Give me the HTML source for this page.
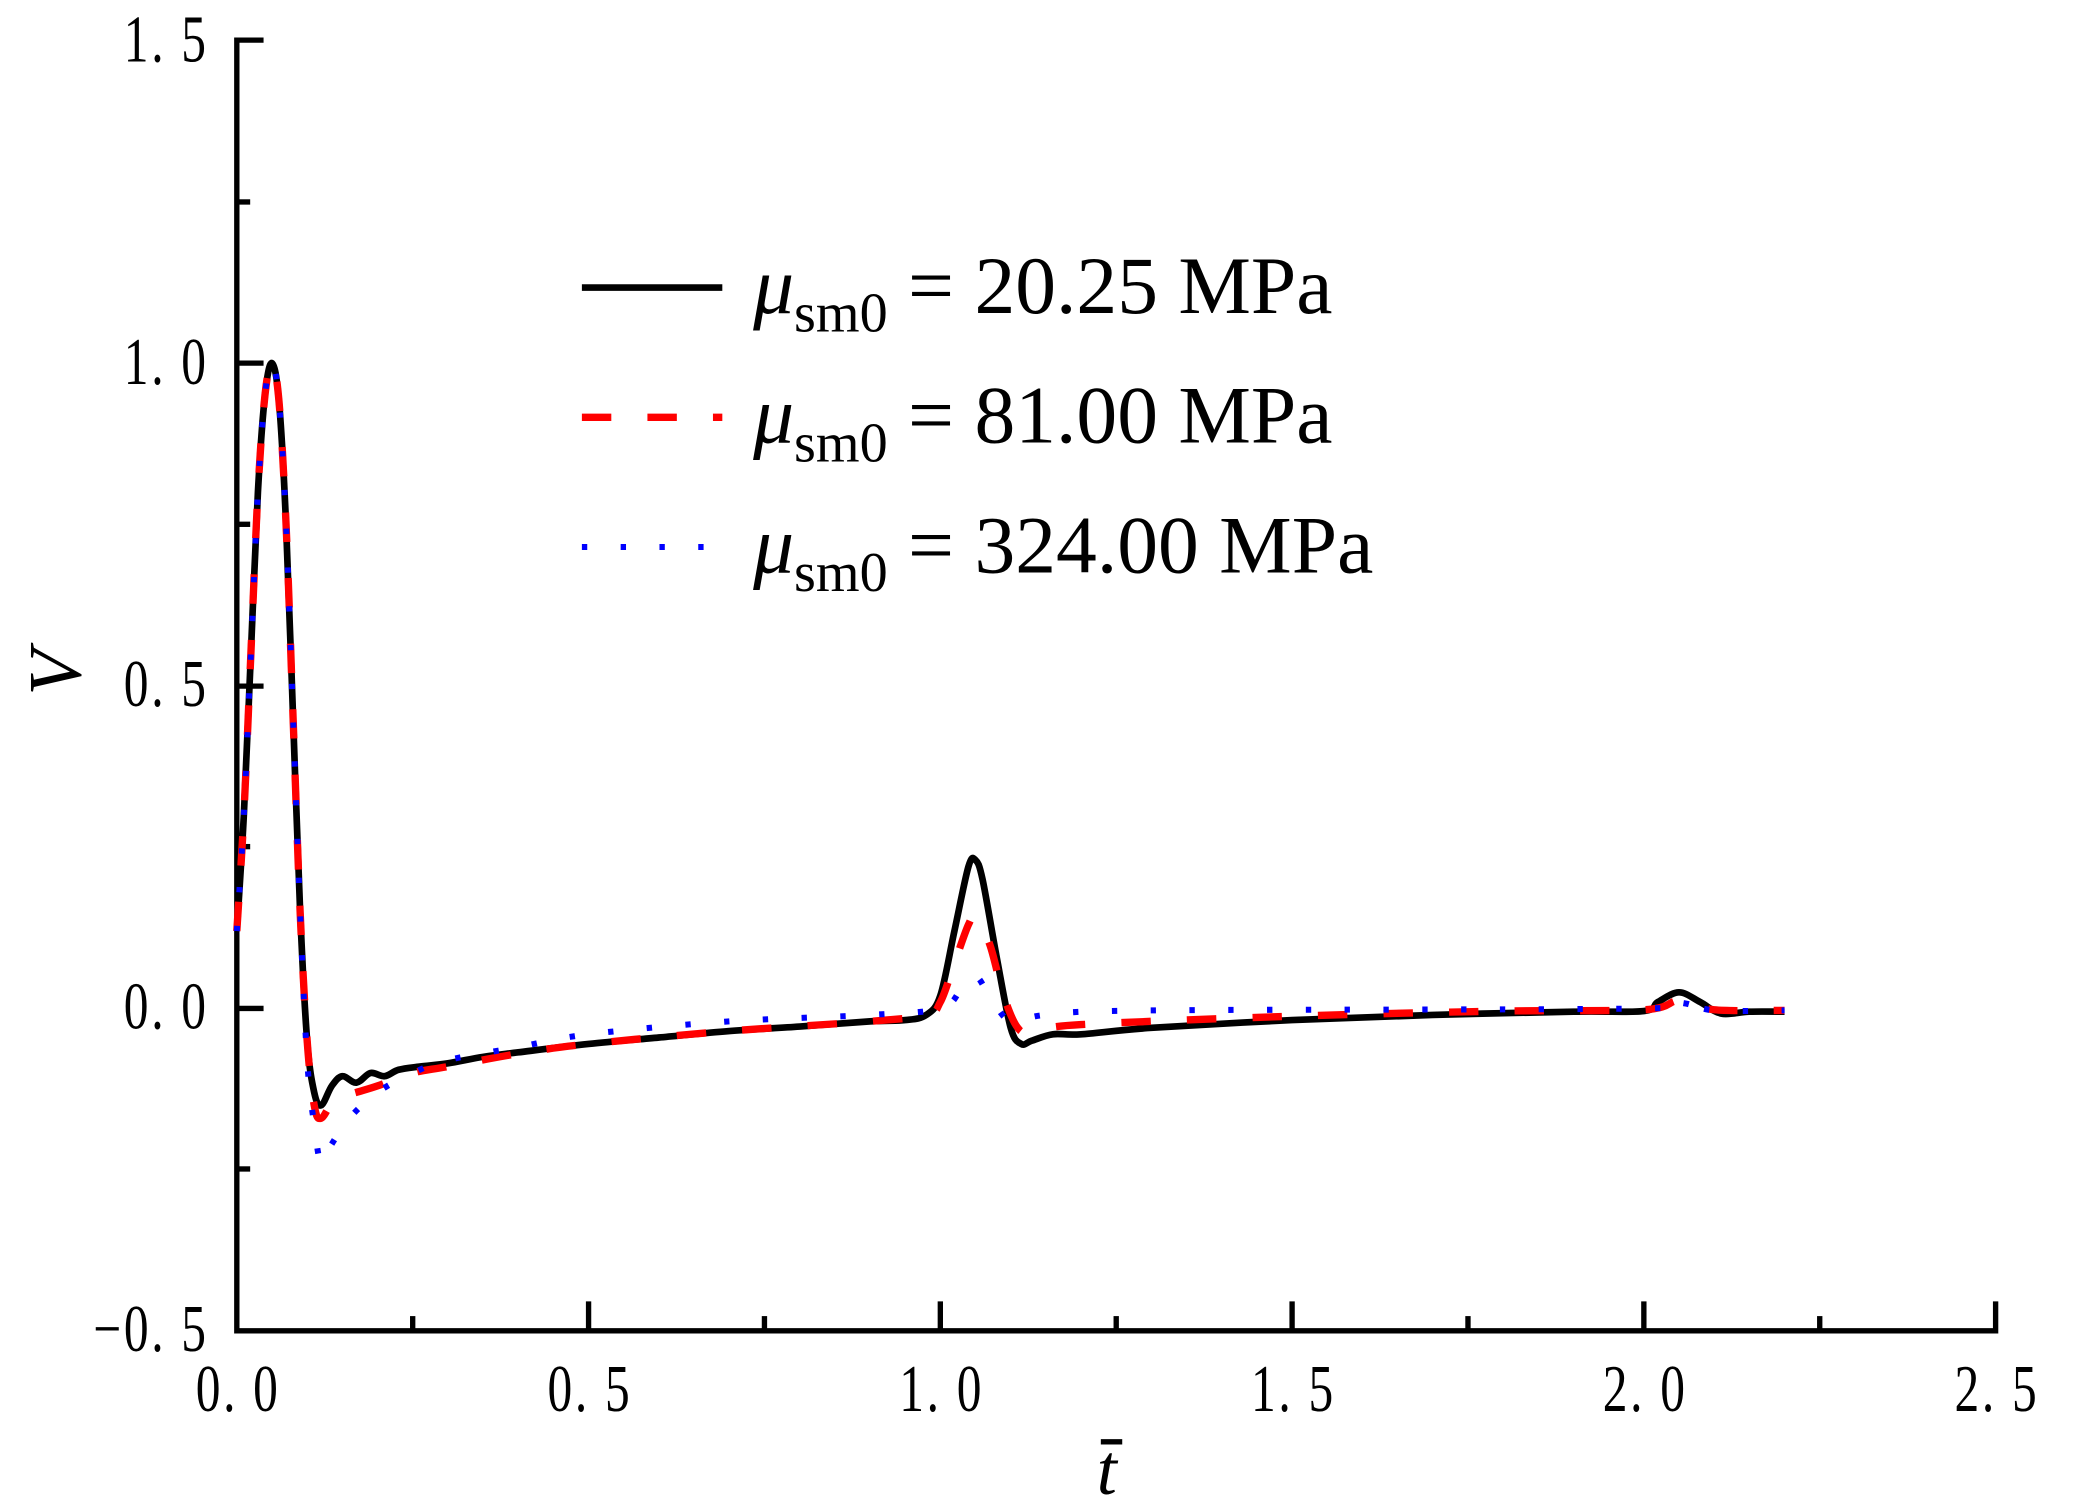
<!DOCTYPE html>
<html><head><meta charset="utf-8">
<style>html,body{margin:0;padding:0;background:#fff;}svg{display:block}</style></head>
<body>
<svg id="s" width="2096" height="1502" viewBox="0 0 1567 1123" xmlns="http://www.w3.org/2000/svg" font-family="'Liberation Serif', serif">
<g stroke="#000" stroke-width="4" fill="none">
<polyline points="197,30 177,30 177,995 1492,995 1492,973"/>
<line x1="177" y1="151" x2="187" y2="151"/>
<line x1="177" y1="271.5" x2="197" y2="271.5"/>
<line x1="177" y1="392" x2="187" y2="392"/>
<line x1="177" y1="513" x2="197" y2="513"/>
<line x1="177" y1="633" x2="187" y2="633"/>
<line x1="177" y1="754" x2="197" y2="754"/>
<line x1="177" y1="874" x2="187" y2="874"/>
<line x1="308.5" y1="995" x2="308.5" y2="984"/>
<line x1="440" y1="995" x2="440" y2="973"/>
<line x1="571.5" y1="995" x2="571.5" y2="984"/>
<line x1="703" y1="995" x2="703" y2="973"/>
<line x1="834.5" y1="995" x2="834.5" y2="984"/>
<line x1="966" y1="995" x2="966" y2="973"/>
<line x1="1097.5" y1="995" x2="1097.5" y2="984"/>
<line x1="1229" y1="995" x2="1229" y2="973"/>
<line x1="1360.5" y1="995" x2="1360.5" y2="984"/>
</g>
<g font-size="37" text-anchor="end" fill="#000" letter-spacing="2">
<text transform="translate(156,46) scale(1,1.35)">1. 5</text>
<text transform="translate(156,287) scale(1,1.35)">1. 0</text>
<text transform="translate(156,528) scale(1,1.35)">0. 5</text>
<text transform="translate(156,769) scale(1,1.35)">0. 0</text>
<text transform="translate(156,1010) scale(1,1.35)">−0. 5</text>
</g>
<g font-size="37" text-anchor="middle" fill="#000" letter-spacing="2">
<text transform="translate(178,1055) scale(1,1.35)">0. 0</text>
<text transform="translate(441,1055) scale(1,1.35)">0. 5</text>
<text transform="translate(704,1055) scale(1,1.35)">1. 0</text>
<text transform="translate(967,1055) scale(1,1.35)">1. 5</text>
<text transform="translate(1230,1055) scale(1,1.35)">2. 0</text>
<text transform="translate(1493,1055) scale(1,1.35)">2. 5</text>
</g>
<text x="0" y="0" font-size="56" font-style="italic" transform="translate(60,520) rotate(-90)">V</text>
<text x="820" y="1117" font-size="54" font-style="italic">t</text>
<rect x="823" y="1076" width="16" height="4" fill="#000"/>
<g id="curves" fill="none"></g>
<line x1="435" y1="215" x2="540" y2="215" stroke="#000" stroke-width="5"/>
<line x1="435" y1="312" x2="540" y2="312" stroke="#f00" stroke-width="5.5" stroke-dasharray="22,27"/>
<line x1="435" y1="409" x2="540" y2="409" stroke="#00f" stroke-width="4.5" stroke-dasharray="4,25"/>
<g font-size="61" fill="#000">
<text x="563" y="234"><tspan font-style="italic">μ</tspan><tspan font-size="42" dy="14">sm0</tspan><tspan dy="-14"> = 20.25 MPa</tspan></text>
<text x="563" y="331"><tspan font-style="italic">μ</tspan><tspan font-size="42" dy="14">sm0</tspan><tspan dy="-14"> = 81.00 MPa</tspan></text>
<text x="563" y="428"><tspan font-style="italic">μ</tspan><tspan font-size="42" dy="14">sm0</tspan><tspan dy="-14"> = 324.00 MPa</tspan></text>
</g>
</svg>
<script>
var X=t=>177+t*526, Y=v=>754-v*482.5;
function path(p){var s='M'+X(p[0][0])+','+Y(p[0][1]);
for(var i=0;i<p.length-1;i++){var p0=p[Math.max(0,i-1)],p1=p[i],p2=p[i+1],p3=p[Math.min(p.length-1,i+2)];
var a=[X(p0[0]),Y(p0[1])],b=[X(p1[0]),Y(p1[1])],c=[X(p2[0]),Y(p2[1])],d=[X(p3[0]),Y(p3[1])];
s+=' C'+(b[0]+(c[0]-a[0])/6)+','+(b[1]+(c[1]-a[1])/6)+' '+(c[0]-(d[0]-b[0])/6)+','+(c[1]-(d[1]-b[1])/6)+' '+c[0]+','+c[1];}
return s;}
var up=[[0,0.12],[0.01,0.3],[0.02,0.55],[0.03,0.8],[0.04,0.95],[0.05,1.0],[0.06,0.94],[0.07,0.75],[0.08,0.45],[0.09,0.15],[0.1,-0.05]];
var blk=up.concat([[0.11,-0.13],[0.12,-0.15],[0.135,-0.12],[0.15,-0.105],[0.17,-0.115],[0.19,-0.1],[0.21,-0.105],[0.23,-0.095],[0.26,-0.09],[0.3,-0.085],[0.35,-0.075],[0.4,-0.068],[0.5,-0.055],[0.6,-0.045],[0.7,-0.035],[0.8,-0.028],[0.9,-0.02],[0.95,-0.018],[0.98,-0.01],[1.0,0.02],[1.02,0.12],[1.04,0.22],[1.05,0.23],[1.06,0.2],[1.08,0.08],[1.1,-0.03],[1.115,-0.055],[1.13,-0.05],[1.16,-0.04],[1.2,-0.04],[1.3,-0.03],[1.5,-0.018],[1.7,-0.01],[1.9,-0.005],[2.0,-0.004],[2.02,0.01],[2.05,0.025],[2.08,0.01],[2.11,-0.008],[2.15,-0.005],[2.2,-0.005]]);
var red=up.concat([[0.11,-0.15],[0.12,-0.17],[0.14,-0.14],[0.17,-0.13],[0.2,-0.12],[0.25,-0.1],[0.3,-0.09],[0.4,-0.07],[0.5,-0.055],[0.7,-0.035],[0.9,-0.02],[0.98,-0.01],[1.0,0.01],[1.02,0.07],[1.04,0.13],[1.05,0.14],[1.07,0.1],[1.09,0.02],[1.11,-0.03],[1.13,-0.035],[1.2,-0.025],[1.5,-0.012],[1.8,-0.004],[2.0,-0.002],[2.05,0.012],[2.1,-0.002],[2.2,-0.003]]);
var blu=up.slice(0,10).concat([[0.1,-0.08],[0.11,-0.18],[0.12,-0.24],[0.135,-0.21],[0.16,-0.17],[0.2,-0.13],[0.25,-0.1],[0.3,-0.08],[0.4,-0.06],[0.5,-0.04],[0.7,-0.02],[0.9,-0.01],[1.0,0.0],[1.03,0.03],[1.05,0.05],[1.07,0.02],[1.1,-0.02],[1.15,-0.01],[1.3,-0.003],[2.0,0],[2.05,0.01],[2.1,-0.003],[2.2,-0.003]]);
document.getElementById('curves').innerHTML=
'<path d="'+path(blk)+'" stroke="#000" stroke-width="5"/>'+
'<path d="'+path(red)+'" stroke="#f00" stroke-width="5.5" stroke-dasharray="22,27"/>'+
'<path d="'+path(blu)+'" stroke="#00f" stroke-width="4.5" stroke-dasharray="4,25"/>';
</script>
</body></html>
